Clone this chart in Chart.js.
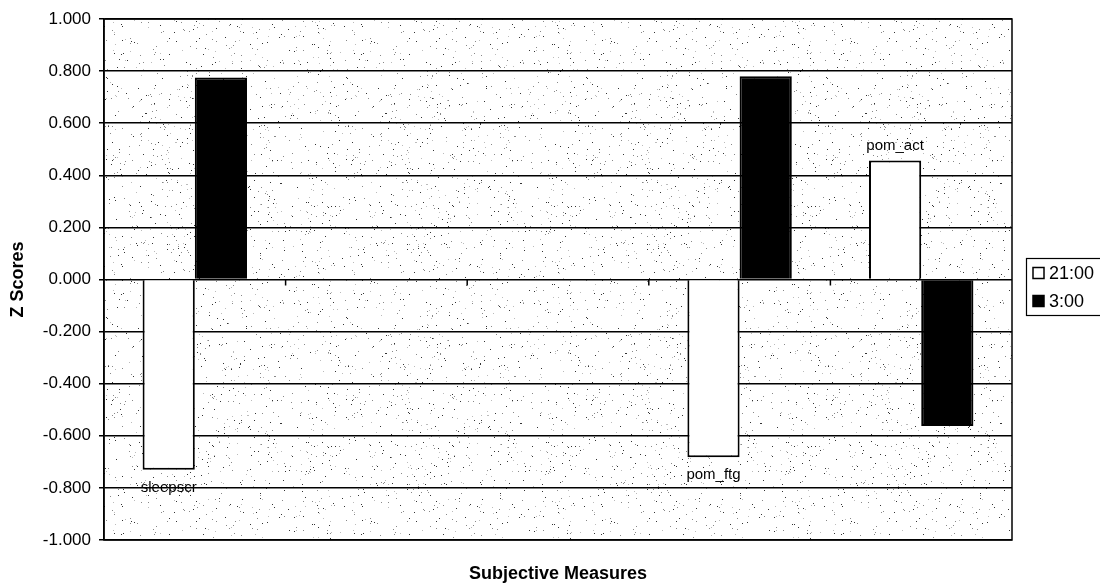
<!DOCTYPE html>
<html>
<head>
<meta charset="utf-8">
<script src="https://cdn.jsdelivr.net/npm/chart.js@4/dist/chart.umd.min.js"></script>
<style>
    html, body { margin: 0; padding: 0; background: #ffffff; }
    #wrap { width: 1100px; height: 588px; position: relative; }
</style>
</head>
<body>
<div id="wrap"><canvas id="zChart"></canvas></div>
<script>
// ===============================
// DATA
// ===============================
const categories = ["sleepscr", "", "", "pom_ftg", "pom_act"];
const seriesNames = ["21:00", "3:00"];
const values2100 = [-0.730, null, null, -0.682, 0.457];
const values0300 = [0.775, null, null, 0.780, -0.562];
const yTicks = [-1, -0.8, -0.6, -0.4, -0.2, 0, 0.2, 0.4, 0.6, 0.8, 1];

const FONT = "'Liberation Sans', Arial, sans-serif";

// ===============================
// STIPPLE BACKGROUND (scanned look)
// ===============================
function makeStipple() {
    const tile = document.createElement("canvas");
    tile.width = 240;
    tile.height = 240;
    const g = tile.getContext("2d");
    g.fillStyle = "#ffffff";
    g.fillRect(0, 0, 240, 240);

    let seed = 12345;
    const next = () => {
        seed = (seed * 1103515245 + 12345) % 2147483648;
        return seed / 2147483648;
    };

    for (let i = 0; i < 1000; i++) {
        const x = Math.floor(next() * 240);
        const y = Math.floor(next() * 240);
        const shade = next();
        g.fillStyle = shade < 0.35 ? "#333333" : (shade < 0.7 ? "#888888" : "#bbbbbb");
        g.fillRect(x, y, 1, 1);
    }
    return tile;
}

// ===============================
// PLUGINS
// ===============================
const plotDecor = {
    id: "plotDecor",
    beforeDraw(chart) {
        const { ctx, chartArea: a } = chart;
        ctx.save();
        ctx.fillStyle = ctx.createPattern(makeStipple(), "repeat");
        ctx.fillRect(a.left, a.top, a.right - a.left, a.bottom - a.top);
        ctx.restore();
    },
    afterDatasetsDraw(chart) {
        const { ctx, chartArea: a, scales } = chart;
        ctx.save();

        // plot border
        ctx.strokeStyle = "#000000";
        ctx.lineWidth = 1.5;
        ctx.strokeRect(a.left, a.top, a.right - a.left, a.bottom - a.top);

        // category tick marks on the zero line
        const x = scales.x;
        const y0 = scales.y.getPixelForValue(0);
        const step = x.getPixelForValue(1) - x.getPixelForValue(0);
        for (let i = 1; i < categories.length; i++) {
            const px = x.getPixelForValue(i) - step / 2;
            ctx.beginPath();
            ctx.moveTo(px, y0);
            ctx.lineTo(px, y0 + 6);
            ctx.stroke();
        }

        // category name labels on the 21:00 series
        const meta = chart.getDatasetMeta(0);
        ctx.fillStyle = "#000000";
        ctx.font = "15px " + FONT;
        ctx.textAlign = "center";
        ctx.textBaseline = "middle";
        meta.data.forEach((bar, i) => {
            const v = values2100[i];
            if (v === null) return;
            const ly = v >= 0 ? bar.y - 15 : bar.y + 18;
            ctx.fillText(categories[i], bar.x, ly);
        });

        ctx.restore();
    },
    afterDraw(chart) {
        const { ctx } = chart;
        ctx.save();

        // legend box
        ctx.fillStyle = "#ffffff";
        ctx.fillRect(1026, 258, 80, 57);
        ctx.strokeStyle = "#000000";
        ctx.lineWidth = 1.2;
        ctx.strokeRect(1026.5, 258.5, 80, 57);

        ctx.font = "18px " + FONT;
        ctx.textAlign = "left";
        ctx.textBaseline = "middle";
        chart.data.datasets.forEach((ds, i) => {
            const cy = 273 + i * 28;
            ctx.fillStyle = ds.backgroundColor;
            ctx.fillRect(1033, cy - 5.5, 11, 11);
            ctx.lineWidth = 1.5;
            ctx.strokeRect(1033, cy - 5.5, 11, 11);
            ctx.fillStyle = "#000000";
            ctx.fillText(ds.label, 1049, cy + 1);
        });

        ctx.restore();
    }
};

// ===============================
// CHART
// ===============================
document.addEventListener("DOMContentLoaded", () => {
    const ctx = document.getElementById("zChart");

    new Chart(ctx, {
        type: "bar",
        data: {
            labels: categories,
            datasets: [
                {
                    label: seriesNames[0],
                    data: values2100,
                    backgroundColor: "#ffffff",
                    borderColor: "#000000",
                    borderWidth: 2
                },
                {
                    label: seriesNames[1],
                    data: values0300,
                    backgroundColor: "#000000",
                    borderColor: "#000000",
                    borderWidth: 2
                }
            ]
        },
        options: {
            responsive: true,
            maintainAspectRatio: false,
            animation: false,
            layout: {
                padding: { left: 0, right: 88, top: 19, bottom: 0 }
            },
            datasets: {
                bar: {
                    categoryPercentage: 0.575,
                    barPercentage: 1
                }
            },
            plugins: {
                legend: { display: false },
                tooltip: { enabled: false }
            },
            scales: {
                x: {
                    grid: { display: false },
                    border: { display: false },
                    ticks: { display: false },
                    title: {
                        display: true,
                        text: "Subjective Measures",
                        color: "#000000",
                        font: { family: FONT, size: 18, weight: "bold" },
                        padding: { top: 0, bottom: 3 }
                    },
                    afterFit(scale) {
                        scale.height = 48;
                    }
                },
                y: {
                    min: yTicks[0],
                    max: yTicks[yTicks.length - 1],
                    afterBuildTicks(scale) {
                        scale.ticks = yTicks.map(v => ({ value: v }));
                    },
                    grid: {
                        color: "#000000",
                        lineWidth: 1.5,
                        tickLength: 5,
                        drawTicks: true
                    },
                    border: { display: true, color: "#000000", width: 1.5 },
                    ticks: {
                        color: "#000000",
                        padding: 8,
                        font: { family: FONT, size: 17 },
                        callback: v => (Math.abs(v) < 1e-9 ? 0 : v).toFixed(3)
                    },
                    title: {
                        display: true,
                        text: "Z Scores",
                        color: "#000000",
                        font: { family: FONT, size: 18, weight: "bold" },
                        padding: { top: 7, bottom: 0 }
                    },
                    afterFit(scale) {
                        scale.width = 104;
                    }
                }
            }
        },
        plugins: [plotDecor]
    });
});
</script>
</body>
</html>
